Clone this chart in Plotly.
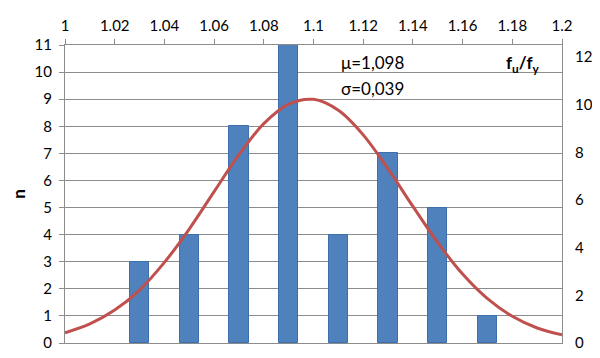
import plotly.graph_objects as go

# Histogram bars (class centres and counts)
bar_x = [1.03, 1.05, 1.07, 1.09, 1.11, 1.13, 1.15, 1.17]
bar_n = [3, 4, 8, 11, 4, 7, 5, 1]

# Fitted curve (right axis units)
curve_x = [1.00, 1.01, 1.02, 1.03, 1.04, 1.05, 1.06, 1.07, 1.08, 1.09, 1.10,
           1.11, 1.12, 1.13, 1.14, 1.15, 1.16, 1.17, 1.18, 1.19, 1.20]
curve_y = [0.43, 0.80, 1.38, 2.22, 3.38, 4.78, 6.35, 7.90, 9.20, 10.02, 10.22,
           9.76, 8.73, 7.30, 5.73, 4.21, 2.89, 1.86, 1.12, 0.63, 0.34]

x_ticks = [1.00, 1.02, 1.04, 1.06, 1.08, 1.10, 1.12, 1.14, 1.16, 1.18, 1.20]
x_tick_labels = ["1", "1.02", "1.04", "1.06", "1.08", "1.1", "1.12", "1.14", "1.16", "1.18", "1.2"]
y_left_ticks = list(range(0, 12))
y_right_ticks = [0, 2, 4, 6, 8, 10, 12]

FONT = "Lato, 'Open Sans', sans-serif"
GRID = "#8c8c8c"

fig = go.Figure()
fig.add_trace(go.Bar(
    x=bar_x, y=bar_n, width=0.0078,
    marker=dict(color="#4F81BD", line=dict(color="#3D6FAE", width=1)),
    yaxis="y", showlegend=False,
))
fig.add_trace(go.Scatter(
    x=curve_x, y=curve_y, mode="lines", line=dict(color="#C0504D", width=3, shape="spline"),
    yaxis="y2", showlegend=False,
))

fig.update_layout(
    width=592, height=350,
    margin=dict(l=57, r=38, t=37, b=15),
    paper_bgcolor="white", plot_bgcolor="white",
    font=dict(family=FONT, size=14, color="black"),
    bargap=0,
    xaxis=dict(
        side="top", range=[1.0, 1.2], tickvals=x_ticks, ticktext=x_tick_labels,
        showgrid=False, zeroline=False, showline=True, linecolor=GRID, linewidth=1,
        mirror=True, ticks="outside", ticklen=5, tickcolor=GRID,
        tickfont=dict(size=15, family=FONT), ticklabelstandoff=2, automargin=False,
    ),
    yaxis=dict(
        range=[0, 11], tickvals=y_left_ticks, showgrid=True, gridcolor=GRID, gridwidth=1,
        zeroline=False, showline=True, linecolor=GRID, linewidth=1,
        ticks="outside", ticklen=5, tickcolor=GRID, tickfont=dict(size=15, family=FONT),
        ticklabelstandoff=4,
        title=dict(text="<b>n</b>", font=dict(size=17, family=FONT), standoff=22),
        automargin=False,
    ),
    yaxis2=dict(
        range=[0, 12.5], tickvals=y_right_ticks, overlaying="y", side="right",
        showgrid=False, zeroline=False, showline=True, linecolor=GRID, linewidth=1,
        ticks="", tickfont=dict(size=15, family=FONT), ticklabelstandoff=9,
        automargin=False,
    ),
    annotations=[
        dict(x=1.1103, y=10.34, xref="x", yref="y", text="μ=1,098", showarrow=False,
             font=dict(size=17, family=FONT), xanchor="left", yanchor="middle"),
        dict(x=1.1103, y=9.41, xref="x", yref="y", text="σ=0,039", showarrow=False,
             font=dict(size=17, family=FONT), xanchor="left", yanchor="middle"),
        dict(x=1.1843, y=10.3, xref="x", yref="y", text="<b>f<sub>u</sub>/f<sub>y</sub></b>",
             showarrow=False, font=dict(size=17, family=FONT), xanchor="center", yanchor="middle"),
    ],
)

fig.write_html("out.html")
